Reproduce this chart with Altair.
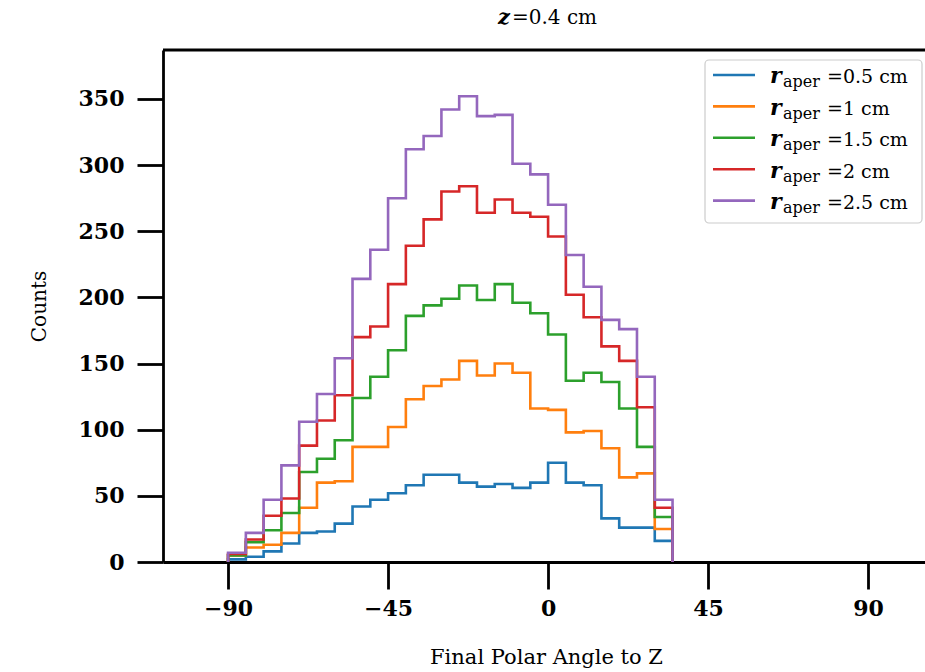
import altair as alt
import pandas as pd

# ---- data ----
bin_edges = list(range(-90, 40, 5))          # 25 bins of 5 degrees, -90 .. 35
series_labels = ["0.5", "1", "1.5", "2", "2.5"]
counts_r05 = [2, 4, 8, 14, 22, 23, 29, 42, 47, 52, 58, 66, 66, 60, 57, 59, 56, 60, 75, 60, 58, 33, 26, 26, 16]
counts_r10 = [5, 11, 13, 22, 41, 60, 61, 87, 87, 102, 123, 133, 138, 152, 141, 150, 143, 116, 115, 98, 99, 86, 64, 67, 25]
counts_r15 = [5, 15, 24, 37, 68, 78, 92, 124, 140, 160, 186, 194, 199, 209, 198, 210, 196, 188, 172, 137, 143, 136, 116, 87, 34]
counts_r20 = [6, 17, 35, 48, 88, 107, 126, 170, 178, 210, 239, 259, 280, 284, 264, 274, 264, 261, 246, 202, 185, 163, 152, 117, 41]
counts_r25 = [7, 22, 47, 73, 106, 127, 154, 214, 236, 275, 312, 322, 342, 352, 337, 338, 301, 293, 270, 232, 208, 183, 176, 140, 47]
all_counts = [counts_r05, counts_r10, counts_r15, counts_r20, counts_r25]
colors = ["#1f77b4", "#ff7f0e", "#2ca02c", "#d62728", "#9467bd"]
x_ticks = [-90, -45, 0, 45, 90]
y_ticks = [0, 50, 100, 150, 200, 250, 300, 350]

W, H = 762, 512
SERIF = "DejaVu Serif"
LW = 2.8
SW = 2.6


def step_frame(counts, label):
    rows = [{"angle": bin_edges[0], "count": 0, "order": 0, "r": label}]
    for k, c in enumerate(counts):
        rows.append({"angle": bin_edges[k], "count": c, "order": k + 1, "r": label})
    rows.append({"angle": bin_edges[-1], "count": counts[-1], "order": len(counts) + 1, "r": label})
    rows.append({"angle": bin_edges[-1], "count": 0, "order": len(counts) + 2, "r": label})
    return pd.DataFrame(rows)


x_scale = alt.Scale(domain=[-108.3, 106.0], nice=False, zero=False)
y_scale = alt.Scale(domain=[0, 387], nice=False, zero=True)

x_axis = alt.Axis(
    values=x_ticks, grid=False, title="Final Polar Angle to Z",
    labelFont=SERIF, labelFontWeight="bold", labelFontSize=22, labelColor="black",
    labelPadding=9, tickSize=27, tickWidth=LW, tickColor="black",
    domainWidth=LW, domainColor="black",
    titleFont=SERIF, titleFontWeight="normal", titleFontSize=21, titleColor="black",
    titleX=383, titleY=101, titleBaseline="alphabetic", titleAlign="center",
)
y_axis = alt.Axis(
    values=y_ticks, grid=False, title="Counts",
    labelFont=SERIF, labelFontWeight="bold", labelFontSize=22, labelColor="black",
    labelPadding=13, tickSize=26, tickWidth=LW, tickColor="black",
    domainWidth=LW, domainColor="black",
    titleFont=SERIF, titleFontWeight="normal", titleFontSize=20, titleColor="black",
    titleX=-124, titleY=256, titleAngle=-90, titleBaseline="middle", titleAlign="center",
)

layers = []
for counts, label, col in zip(all_counts, series_labels, colors):
    df = step_frame(counts, label)
    layers.append(
        alt.Chart(df).mark_line(interpolate="step-after", strokeWidth=SW, color=col, clip=True).encode(
            x=alt.X("angle:Q", scale=x_scale, axis=x_axis),
            y=alt.Y("count:Q", scale=y_scale, axis=y_axis),
            order=alt.Order("order:Q"),
        )
    )

one = pd.DataFrame({"v": [0]})

# top spine
layers.append(
    alt.Chart(one).mark_rule(color="black", strokeWidth=LW).encode(
        x=alt.value(0), x2=alt.value(W), y=alt.value(0)
    )
)

# legend box
layers.append(
    alt.Chart(one).mark_rect(fill="white", fillOpacity=0.8, stroke="#cccccc", strokeWidth=1.2,
                             cornerRadius=4).encode(
        x=alt.value(542), x2=alt.value(759), y=alt.value(10), y2=alt.value(173)
    )
)

for i, (label, col) in enumerate(zip(series_labels, colors)):
    yc = 25 + 31.4 * i
    layers.append(
        alt.Chart(one).mark_rule(color=col, strokeWidth=SW).encode(
            x=alt.value(550), x2=alt.value(592), y=alt.value(yc)
        )
    )
    layers.append(
        alt.Chart(pd.DataFrame({"t": ["r"]})).mark_text(
            font=SERIF, fontWeight="bold", fontStyle="italic", fontSize=22,
            align="left", baseline="alphabetic", color="black").encode(
            text="t:N", x=alt.value(607), y=alt.value(yc + 8.3)
        )
    )
    layers.append(
        alt.Chart(pd.DataFrame({"t": ["aper"]})).mark_text(
            font=SERIF, fontSize=16, align="left", baseline="alphabetic", color="black").encode(
            text="t:N", x=alt.value(620), y=alt.value(yc + 12.3)
        )
    )
    layers.append(
        alt.Chart(pd.DataFrame({"t": ["=" + label + " cm"]})).mark_text(
            font=SERIF, fontSize=19, align="left", baseline="alphabetic", color="black").encode(
            text="t:N", x=alt.value(664), y=alt.value(yc + 8.3)
        )
    )

# title  z=0.4 cm
layers.append(
    alt.Chart(pd.DataFrame({"t": ["z"]})).mark_text(
        font=SERIF, fontWeight="bold", fontStyle="italic", fontSize=21,
        align="right", baseline="alphabetic", color="black").encode(
        text="t:N", x=alt.value(347), y=alt.value(-26)
    )
)
layers.append(
    alt.Chart(pd.DataFrame({"t": ["=0.4 cm"]})).mark_text(
        font=SERIF, fontSize=20, align="left", baseline="alphabetic", color="black").encode(
        text="t:N", x=alt.value(349), y=alt.value(-26)
    )
)

chart = alt.layer(*layers).properties(
    width=W, height=H,
    autosize=alt.AutoSizeParams(type="none"),
    padding={"left": 163, "top": 50, "right": 0, "bottom": 110},
    background="white",
).configure_view(stroke=None)

chart.save("out.html", embed_options={"renderer": "svg", "actions": False})
